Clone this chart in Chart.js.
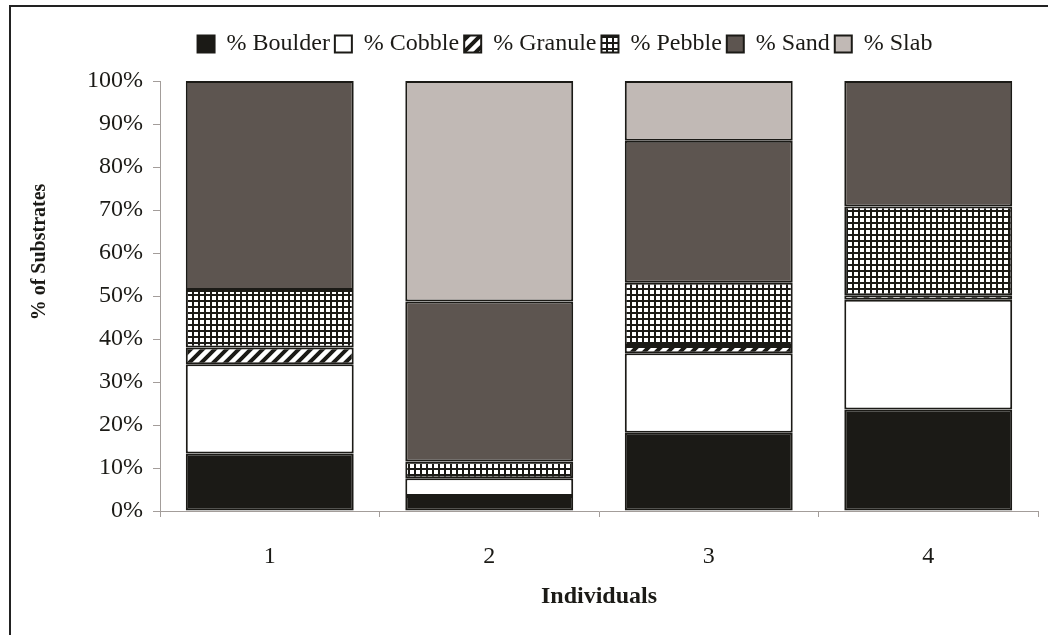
<!DOCTYPE html>
<html>
<head>
<meta charset="utf-8">
<script src="https://cdn.jsdelivr.net/npm/chart.js@4.4.0/dist/chart.umd.min.js"></script>
<style>
  html, body { margin: 0; padding: 0; background: #fff; }
  #wrap { width: 1048px; height: 635px; position: relative; }
</style>
</head>
<body>
<div id="wrap"><canvas id="myChart"></canvas></div>
<script>
// individuals on the x axis
const categories = ['1', '2', '3', '4'];
// % of substrates per individual
const boulder = [13.4, 3.5, 18.2, 23.6];
const cobble  = [20.7, 4.1, 18.5, 25.5];
const granule = [3.9, 0, 1.7, 1.1];
const pebble  = [13.4, 3.9, 14.7, 20.6];
const sand    = [48.6, 37.2, 33.0, 29.2];
const slab    = [0, 51.3, 13.9, 0];
const yTicks  = [0, 10, 20, 30, 40, 50, 60, 70, 80, 90, 100];

const FONT = "'Liberation Serif', 'Times New Roman', serif";
const INK = '#1b1a16';

// hatch for granule  (///)
function hatchPattern() {
    const c = document.createElement('canvas');
    c.width = 12; c.height = 12;
    const g = c.getContext('2d');
    g.fillStyle = '#fff';
    g.fillRect(0, 0, 12, 12);
    g.strokeStyle = INK;
    g.lineWidth = 4;
    g.beginPath();
    g.moveTo(-3, 15); g.lineTo(15, -3);
    g.moveTo(-9, 9); g.lineTo(9, -9);
    g.moveTo(3, 21); g.lineTo(21, 3);
    g.stroke();
    return g.createPattern(c, 'repeat');
}

// small grid for pebble
function gridPattern() {
    const c = document.createElement('canvas');
    c.width = 6; c.height = 6;
    const g = c.getContext('2d');
    g.fillStyle = INK;
    g.fillRect(0, 0, 6, 6);
    g.fillStyle = '#fff';
    g.fillRect(2, 2, 4, 4);
    return g.createPattern(c, 'repeat');
}

function ds(label, data, fill) {
    return {
        label: label,
        data: data,
        backgroundColor: fill,
        borderColor: INK,
        borderWidth: 2,
        borderSkipped: false
    };
}

// frame round the figure + y title
const extras = {
    id: 'extras',
    beforeDraw(chart) {
        const ctx = chart.ctx;
        ctx.save();
        ctx.strokeStyle = '#222';
        ctx.lineWidth = 2;
        ctx.beginPath();
        ctx.moveTo(10, 640);
        ctx.lineTo(10, 6);
        ctx.lineTo(1060, 6);
        ctx.stroke();
        ctx.restore();
    },
    afterLayout(chart) {
        // legend sits a bit left of the plot centre
        chart.legend.left -= 34;
        chart.legend.right -= 34;
    },
    afterDraw(chart) {
        const ctx = chart.ctx;
        ctx.save();
        ctx.translate(40, 252);
        ctx.rotate(-Math.PI / 2);
        ctx.font = 'bold 20px ' + FONT;
        ctx.fillStyle = INK;
        ctx.textAlign = 'center';
        ctx.textBaseline = 'middle';
        ctx.fillText('% of Substrates', 0, 0);
        ctx.restore();
    },
    beforeLayout(chart) {
        const lg = chart.legend;
        if (lg && !lg._fixed) {
            const fit = lg.fit;
            lg.fit = function () { fit.call(this); this.height = 54; };
            lg._fixed = true;
        }
    }
};

const ctx = document.getElementById('myChart');
new Chart(ctx, {
    type: 'bar',
    data: {
        labels: categories,
        datasets: [
            ds('% Boulder', boulder, INK),
            ds('% Cobble', cobble, '#ffffff'),
            ds('% Granule', granule, hatchPattern()),
            ds('% Pebble', pebble, gridPattern()),
            ds('% Sand', sand, '#5d5550'),
            ds('% Slab', slab, '#c1b9b5')
        ]
    },
    options: {
        responsive: true,
        maintainAspectRatio: false,
        animation: false,
        barPercentage: 0.765,
        categoryPercentage: 1,
        layout: { padding: { top: 27, right: 10, bottom: 0, left: 0 } },
        plugins: {
            tooltip: { enabled: false },
            legend: {
                position: 'top',
                fullSize: false,
                labels: {
                    color: INK,
                    font: { family: FONT, size: 24 },
                    boxWidth: 17,
                    boxHeight: 17,
                    padding: 5
                }
            }
        },
        scales: {
            x: {
                stacked: true,
                afterFit(scale) { scale.height = 124; },
                border: { color: '#a39d9a', width: 1 },
                grid: { offset: true, drawOnChartArea: false, drawTicks: true, tickLength: 6, color: '#a39d9a' },
                ticks: { color: INK, padding: 25, font: { family: FONT, size: 24 } },
                title: {
                    display: true,
                    text: 'Individuals',
                    color: INK,
                    font: { family: FONT, size: 24, weight: 'bold' },
                    padding: { top: 0, bottom: 24 }
                }
            },
            y: {
                stacked: true,
                min: 0,
                max: 100,
                afterFit(scale) { scale.width = 160; },
                afterBuildTicks(scale) { scale.ticks = yTicks.map(v => ({ value: v })); },
                border: { color: '#a39d9a', width: 1 },
                grid: { drawOnChartArea: false, drawTicks: true, tickLength: 7, color: '#a39d9a' },
                ticks: {
                    color: INK,
                    padding: 10,
                    font: { family: FONT, size: 24 },
                    callback: v => v + '%'
                }
            }
        }
    },
    plugins: [extras]
});
</script>
</body>
</html>
